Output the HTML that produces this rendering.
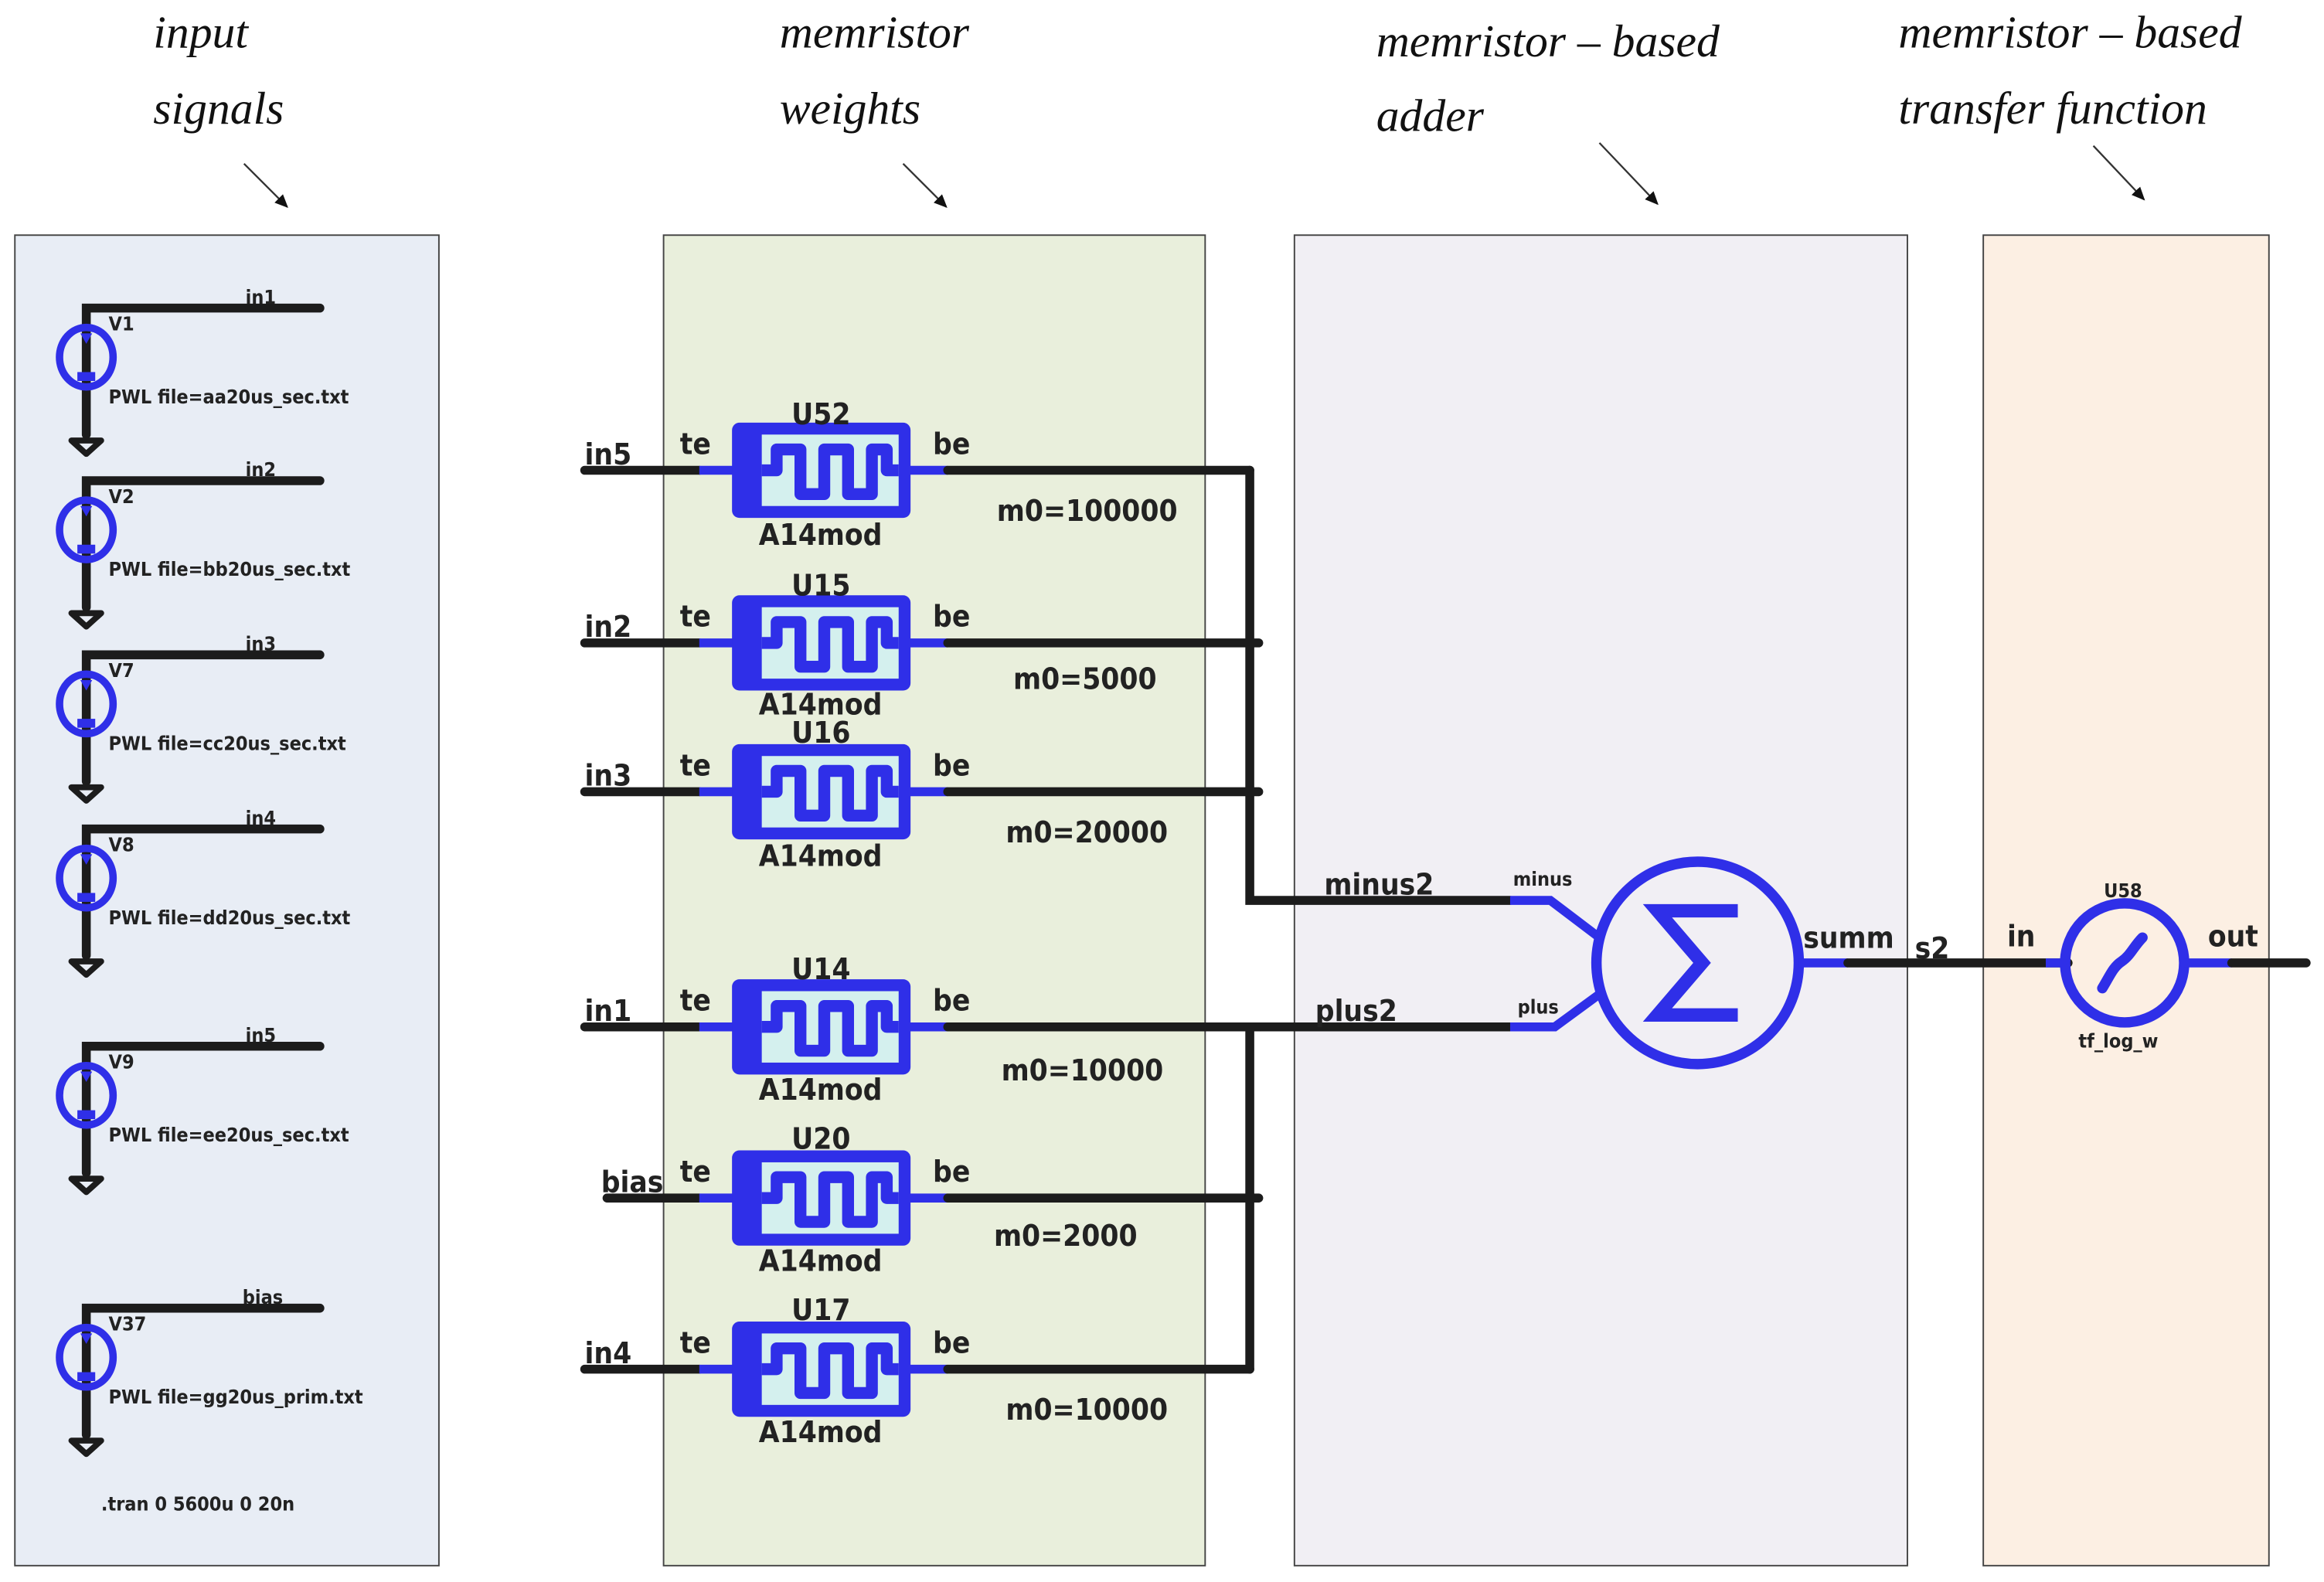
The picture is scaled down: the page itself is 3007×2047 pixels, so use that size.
<!DOCTYPE html>
<html><head><meta charset="utf-8"><style>
html,body{margin:0;padding:0;background:#fff}
svg{display:block}
.h{font-family:"Liberation Serif",serif;font-style:italic;font-size:31px;fill:#111}
.s{font-family:"DejaVu Sans Condensed","DejaVu Sans",sans-serif;font-size:13px;fill:#222;font-weight:bold}
.b{font-family:"DejaVu Sans Condensed","DejaVu Sans",sans-serif;font-size:20px;font-weight:bold;fill:#222}
.w{stroke:#1c1c1c;stroke-width:6;fill:none;stroke-linecap:round}
.bl{stroke:#2f2fe8;stroke-width:6;fill:none}
</style></head><body>
<svg width="3007" height="2047" viewBox="0 0 1562 1063" preserveAspectRatio="none" xmlns="http://www.w3.org/2000/svg">
<defs>
<marker id="ar" markerWidth="10" markerHeight="10" refX="8" refY="5" orient="auto" markerUnits="userSpaceOnUse"><path d="M0,1 L9,5 L0,9 z" fill="#111"/></marker>
<g id="src">
 <ellipse cx="0" cy="0" rx="18" ry="20" fill="none" stroke="#2f2fe8" stroke-width="5"/>
 <path d="M-4,-16 L4,-16 L0,-9 z" fill="#2f2fe8"/>
 <rect x="-6" y="10" width="12" height="6" fill="#2f2fe8"/>
</g>
<g id="gnd">
 <path d="M-10,0 L10,0 L0,9 z" fill="none" stroke="#1c1c1c" stroke-width="4" stroke-linejoin="round"/>
</g>
<g id="mem">
 <rect x="-60" y="-32" width="120" height="64" rx="5" fill="#2f2fe8"/>
 <rect x="-40" y="-24" width="92" height="48" fill="#d4f0ee"/>
 <path d="M-40,0 L-30,0 L-30,-14 L-14,-14 L-14,16 L2,16 L2,-14 L18,-14 L18,16 L34,16 L34,-14 L44,-14 L44,0 L52,0" fill="none" stroke="#2f2fe8" stroke-width="8" stroke-linejoin="round"/>
</g>
</defs>

<text class="h" x="103" y="32">input</text>
<text class="h" x="103" y="83">signals</text>
<text class="h" x="524" y="32">memristor</text>
<text class="h" x="524" y="83">weights</text>
<text class="h" x="925" y="38">memristor – based</text>
<text class="h" x="925" y="88">adder</text>
<text class="h" x="1276" y="32">memristor – based</text>
<text class="h" x="1276" y="83">transfer  function</text>
<g stroke="#333" stroke-width="1.2" marker-end="url(#ar)">
<line x1="164" y1="110" x2="193" y2="139"/>
<line x1="607" y1="110" x2="636" y2="139"/>
<line x1="1075" y1="96" x2="1114" y2="137"/>
<line x1="1407" y1="98" x2="1441" y2="134"/>
</g>

<rect x="10" y="158" width="285" height="894" fill="#e8edf5" stroke="#444" stroke-width="1"/>
<rect x="446" y="158" width="364" height="894" fill="#e9efdc" stroke="#444" stroke-width="1"/>
<rect x="870" y="158" width="412" height="894" fill="#f1eff4" stroke="#444" stroke-width="1"/>
<rect x="1333" y="158" width="192" height="894" fill="#fcefe3" stroke="#444" stroke-width="1"/>

<g>
 <path class="w" d="M215,207 L58,207 L58,292"/><use href="#src" x="58" y="240"/><use href="#gnd" x="58" y="296"/>
 <text class="s" x="165" y="204">in1</text><text class="s" x="73" y="222">V1</text><text class="s" x="73" y="271">PWL file=aa20us_sec.txt</text>
 <path class="w" d="M215,323 L58,323 L58,408"/><use href="#src" x="58" y="356"/><use href="#gnd" x="58" y="412"/>
 <text class="s" x="165" y="320">in2</text><text class="s" x="73" y="338">V2</text><text class="s" x="73" y="387">PWL file=bb20us_sec.txt</text>
 <path class="w" d="M215,440 L58,440 L58,525"/><use href="#src" x="58" y="473"/><use href="#gnd" x="58" y="529"/>
 <text class="s" x="165" y="437">in3</text><text class="s" x="73" y="455">V7</text><text class="s" x="73" y="504">PWL file=cc20us_sec.txt</text>
 <path class="w" d="M215,557 L58,557 L58,642"/><use href="#src" x="58" y="590"/><use href="#gnd" x="58" y="646"/>
 <text class="s" x="165" y="554">in4</text><text class="s" x="73" y="572">V8</text><text class="s" x="73" y="621">PWL file=dd20us_sec.txt</text>
 <path class="w" d="M215,703 L58,703 L58,788"/><use href="#src" x="58" y="736"/><use href="#gnd" x="58" y="792"/>
 <text class="s" x="165" y="700">in5</text><text class="s" x="73" y="718">V9</text><text class="s" x="73" y="767">PWL file=ee20us_sec.txt</text>
 <path class="w" d="M215,879 L58,879 L58,964"/><use href="#src" x="58" y="912"/><use href="#gnd" x="58" y="968"/>
 <text class="s" x="163" y="876">bias</text><text class="s" x="73" y="894">V37</text><text class="s" x="73" y="943">PWL file=gg20us_prim.txt</text>
 <text class="s" x="68" y="1015">.tran 0 5600u 0 20n</text>
</g>

<path class="w" d="M840,316 L840,605 L1015,605"/>
<path class="w" d="M840,690 L840,920"/>
<path class="w" d="M840,690 L1015,690"/>

<g>
 <line class="w" x1="393" y1="316" x2="470" y2="316"/><line class="bl" x1="470" y1="316" x2="637" y2="316"/><line class="w" x1="637" y1="316" x2="840" y2="316"/>
 <use href="#mem" x="552" y="316"/>
 <text class="b" x="393" y="312">in5</text><text class="b" x="457" y="305">te</text><text class="b" x="627" y="305">be</text>
 <text class="b" x="532" y="285">U52</text><text class="b" x="510" y="366">A14mod</text><text class="b" x="670" y="350">m0=100000</text>

 <line class="w" x1="393" y1="432" x2="470" y2="432"/><line class="bl" x1="470" y1="432" x2="637" y2="432"/><line class="w" x1="637" y1="432" x2="846" y2="432"/>
 <use href="#mem" x="552" y="432"/>
 <text class="b" x="393" y="428">in2</text><text class="b" x="457" y="421">te</text><text class="b" x="627" y="421">be</text>
 <text class="b" x="532" y="400">U15</text><text class="b" x="510" y="480">A14mod</text><text class="b" x="681" y="463">m0=5000</text>

 <line class="w" x1="393" y1="532" x2="470" y2="532"/><line class="bl" x1="470" y1="532" x2="637" y2="532"/><line class="w" x1="637" y1="532" x2="846" y2="532"/>
 <use href="#mem" x="552" y="532"/>
 <text class="b" x="393" y="528">in3</text><text class="b" x="457" y="521">te</text><text class="b" x="627" y="521">be</text>
 <text class="b" x="532" y="499">U16</text><text class="b" x="510" y="582">A14mod</text><text class="b" x="676" y="566">m0=20000</text>

 <line class="w" x1="393" y1="690" x2="470" y2="690"/><line class="bl" x1="470" y1="690" x2="637" y2="690"/><line class="w" x1="637" y1="690" x2="846" y2="690"/>
 <use href="#mem" x="552" y="690"/>
 <text class="b" x="393" y="686">in1</text><text class="b" x="457" y="679">te</text><text class="b" x="627" y="679">be</text>
 <text class="b" x="532" y="658">U14</text><text class="b" x="510" y="739">A14mod</text><text class="b" x="673" y="726">m0=10000</text>

 <line class="w" x1="408" y1="805" x2="470" y2="805"/><line class="bl" x1="470" y1="805" x2="637" y2="805"/><line class="w" x1="637" y1="805" x2="846" y2="805"/>
 <use href="#mem" x="552" y="805"/>
 <text class="b" x="404" y="801">bias</text><text class="b" x="457" y="794">te</text><text class="b" x="627" y="794">be</text>
 <text class="b" x="532" y="772">U20</text><text class="b" x="510" y="854">A14mod</text><text class="b" x="668" y="837">m0=2000</text>

 <line class="w" x1="393" y1="920" x2="470" y2="920"/><line class="bl" x1="470" y1="920" x2="637" y2="920"/><line class="w" x1="637" y1="920" x2="840" y2="920"/>
 <use href="#mem" x="552" y="920"/>
 <text class="b" x="393" y="916">in4</text><text class="b" x="457" y="909">te</text><text class="b" x="627" y="909">be</text>
 <text class="b" x="532" y="887">U17</text><text class="b" x="510" y="969">A14mod</text><text class="b" x="676" y="954">m0=10000</text>
</g>

<text class="b" x="890" y="601">minus2</text>
<text class="b" x="884" y="686">plus2</text>
<text class="s" x="1017" y="595">minus</text>
<text class="s" x="1020" y="681">plus</text>
<path class="bl" d="M1015,605 L1042,605 L1075,630"/>
<path class="bl" d="M1015,690 L1045,690 L1075,668"/>
<circle cx="1141" cy="647" r="68" fill="none" stroke="#2f2fe8" stroke-width="7"/>
<path d="M1168,612 L1114,612 L1144,647 L1114,682 L1168,682" fill="none" stroke="#2f2fe8" stroke-width="9" stroke-linejoin="miter"/>
<text class="b" x="1212" y="637">summ</text>
<line class="bl" x1="1209" y1="647" x2="1242" y2="647"/>
<line class="w" x1="1242" y1="647" x2="1390" y2="647"/>
<text class="b" x="1287" y="644">s2</text>
<text class="b" x="1349" y="636">in</text>
<line class="bl" x1="1375" y1="647" x2="1390" y2="647"/>
<circle cx="1428" cy="647" r="40" fill="none" stroke="#2f2fe8" stroke-width="7"/>
<path d="M1413,664 C1418,656 1420,650 1426,646 C1432,642 1434,636 1440,630" fill="none" stroke="#2f2fe8" stroke-width="7" stroke-linecap="round"/>
<line class="bl" x1="1468" y1="647" x2="1500" y2="647"/>
<line class="w" x1="1500" y1="647" x2="1550" y2="647"/>
<text class="b" x="1484" y="636">out</text>
<text class="s" x="1414" y="603">U58</text>
<text class="s" x="1397" y="704">tf_log_w</text>
</svg>
</body></html>
